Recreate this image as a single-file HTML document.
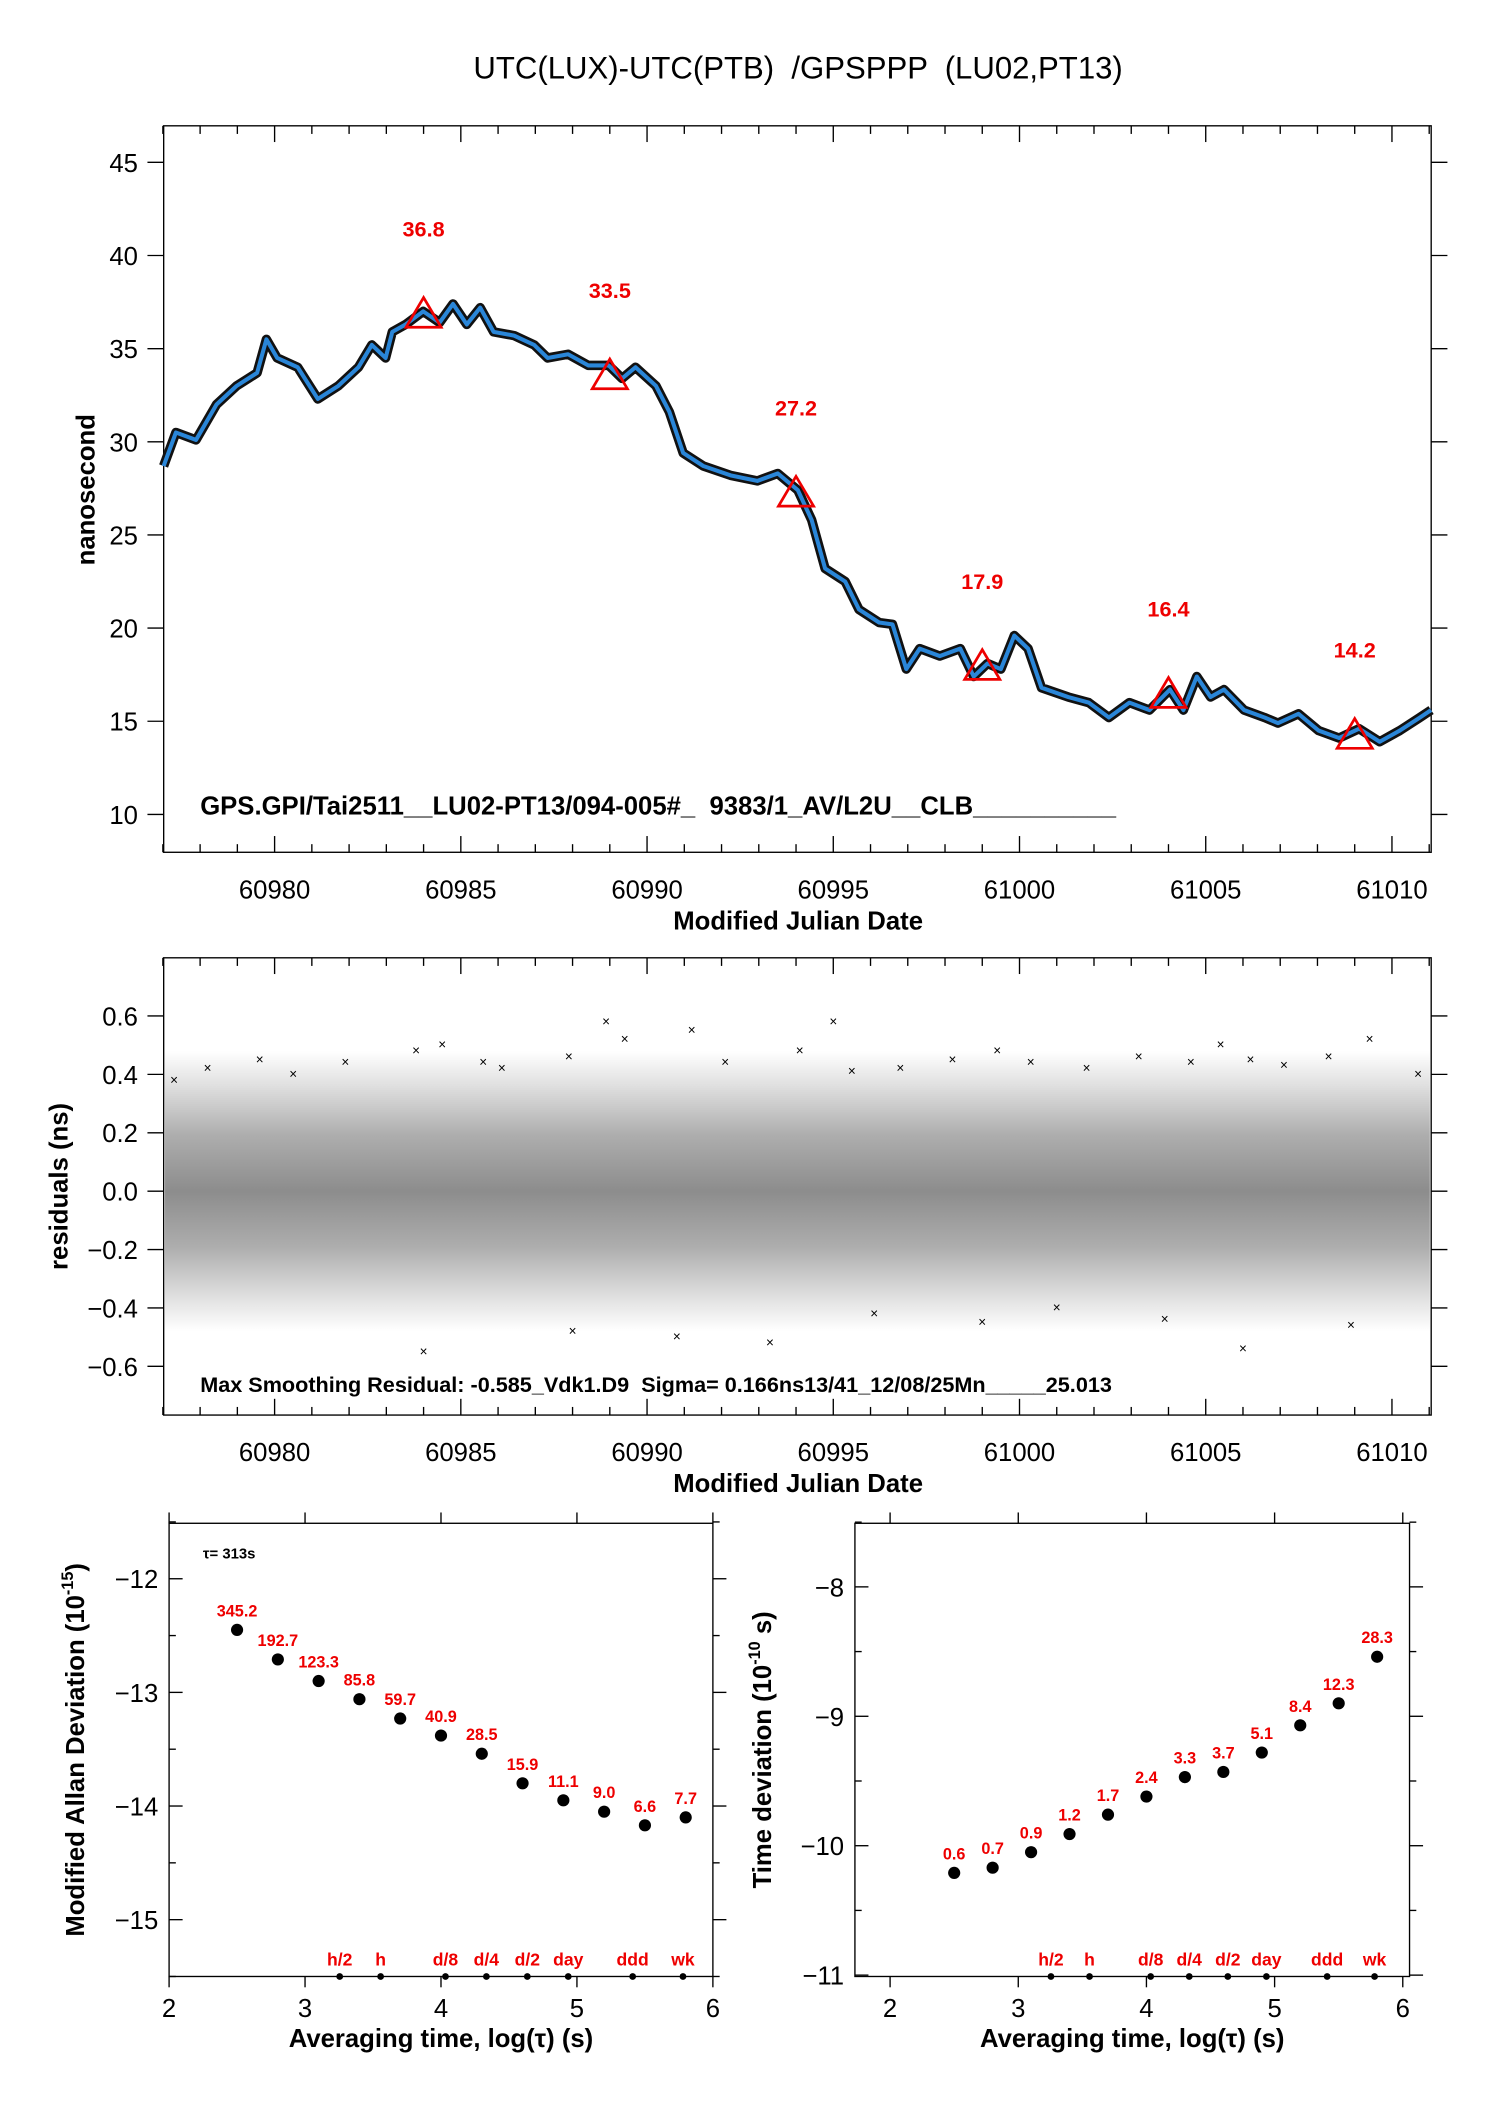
<!DOCTYPE html>
<html><head><meta charset="utf-8"><style>
html,body{margin:0;padding:0;background:#fff;}
svg{display:block;font-family:"Liberation Sans",sans-serif;}
svg text{white-space:pre;}
</style></head><body>
<svg id="root" width="1488" height="2105" viewBox="0 0 1100 1556" preserveAspectRatio="none" xmlns="http://www.w3.org/2000/svg">
<defs>
<linearGradient id="band" x1="0" y1="0" x2="0" y2="1">
<stop offset="0" stop-color="#000" stop-opacity="0"/>
<stop offset="0.12" stop-color="#000" stop-opacity="0.12"/>
<stop offset="0.3" stop-color="#000" stop-opacity="0.32"/>
<stop offset="0.5" stop-color="#000" stop-opacity="0.45"/>
<stop offset="0.7" stop-color="#000" stop-opacity="0.32"/>
<stop offset="0.88" stop-color="#000" stop-opacity="0.12"/>
<stop offset="1" stop-color="#000" stop-opacity="0"/>
</linearGradient>
</defs>
<text x="590" y="58" font-size="23" text-anchor="middle">UTC(LUX)-UTC(PTB)  /GPSPPP  (LU02,PT13)</text>
<g id="p1"></g>
<g id="p2"></g>
<g id="p3"></g>
<g id="p4"></g>
</svg>
<script>
const days=[60977.02,60977.35,60977.89,60978.44,60978.98,60979.53,60979.78,60980.07,60980.62,60981.16,60981.71,60982.25,60982.61,60982.98,60983.16,60983.52,60983.99,60984.43,60984.79,60985.16,60985.52,60985.88,60986.43,60986.97,60987.33,60987.88,60988.42,60988.97,60989.33,60989.69,60990.24,60990.60,60990.97,60991.51,60992.24,60992.96,60993.51,60994.05,60994.42,60994.78,60995.32,60995.69,60996.23,60996.59,60996.96,60997.32,60997.86,60998.41,60998.77,60999.14,60999.50,60999.86,61000.23,61000.59,61001.31,61001.86,61002.40,61002.95,61003.49,61004.04,61004.40,61004.76,61005.13,61005.49,61006.03,61006.58,61006.94,61007.49,61008.03,61008.58,61009.12,61009.67,61010.21,61010.75,61011.05];
const ns=[28.7,30.5,30.1,32.0,33.0,33.7,35.5,34.5,34.0,32.3,33.0,34.0,35.2,34.5,35.9,36.3,37.0,36.4,37.4,36.3,37.2,35.9,35.7,35.2,34.5,34.7,34.1,34.1,33.4,34.0,33.0,31.6,29.4,28.7,28.2,27.9,28.3,27.4,25.8,23.2,22.5,21.0,20.3,20.2,17.8,18.9,18.5,18.9,17.4,18.1,17.8,19.6,18.9,16.8,16.3,16.0,15.2,16.0,15.6,16.7,15.6,17.4,16.3,16.7,15.6,15.2,14.9,15.4,14.5,14.1,14.6,13.9,14.5,15.2,15.6];
const triDays=[60984,60989,60994,60999,61004,61009];
const triVals=[36.8,33.5,27.2,17.9,16.4,14.2];
const triLabels=["36.8","33.5","27.2","17.9","16.4","14.2"];
const dayTicks=[60980,60985,60990,60995,61000,61005,61010];
const nsTicks=[10,15,20,25,30,35,40,45];
const resTicks=[-0.6,-0.4,-0.2,0.0,0.2,0.4,0.6];
const resTickLabels=["\u22120.6","\u22120.4","\u22120.2","0.0","0.2","0.4","0.6"];
const outDays=[60977.3,60978.2,60979.6,60980.5,60981.9,60983.8,60984.5,60985.6,60986.1,60987.9,60988.9,60989.4,60991.2,60992.1,60994.1,60995.0,60995.5,60996.8,60998.2,60999.4,61000.3,61001.8,61003.2,61004.6,61005.4,61006.2,61007.1,61008.3,61009.4,61010.7,60984.0,60988.0,60990.8,60993.3,60996.1,60999.0,61001.0,61003.9,61006.0,61008.9];
const outRes=[0.38,0.42,0.45,0.4,0.44,0.48,0.5,0.44,0.42,0.46,0.58,0.52,0.55,0.44,0.48,0.58,0.41,0.42,0.45,0.48,0.44,0.42,0.46,0.44,0.5,0.45,0.43,0.46,0.52,0.4,-0.55,-0.48,-0.5,-0.52,-0.42,-0.45,-0.4,-0.44,-0.54,-0.46];
const logTau=[2.5,2.8,3.1,3.4,3.7,4.0,4.3,4.6,4.9,5.2,5.5,5.8];
const mdev=[-12.45,-12.71,-12.90,-13.06,-13.23,-13.38,-13.54,-13.80,-13.95,-14.05,-14.17,-14.10];
const mdevLabels=["345.2","192.7","123.3","85.8","59.7","40.9","28.5","15.9","11.1","9.0","6.6","7.7"];
const tdev=[-10.21,-10.17,-10.05,-9.91,-9.76,-9.62,-9.47,-9.43,-9.28,-9.07,-8.90,-8.54];
const tdevLabels=["0.6","0.7","0.9","1.2","1.7","2.4","3.3","3.7","5.1","8.4","12.3","28.3"];
const markTau=[3.255,3.556,4.033,4.334,4.635,4.936,5.41,5.78];
const markLabels=["h/2","h","d/8","d/4","d/2","day","ddd","wk"];
const logTicks=[2,3,4,5,6];
const mdevTicks=[-15,-14,-13,-12];
const tdevTicks=[-11,-10,-9,-8];

const NS="http://www.w3.org/2000/svg";
function mk(parent,tag,attrs,text){const e=document.createElementNS(NS,tag);for(const k in attrs)e.setAttribute(k,attrs[k]);if(text!==undefined)e.textContent=text;parent.appendChild(e);return e;}
const lin=(d0,d1,r0,r1)=>v=>r0+(v-d0)*(r1-r0)/(d1-d0);

const p1=document.getElementById('p1');
const x1=lin(60980,61010,203,1029), y1=lin(45,10,120,602);
function frame(g,x0,y0,x1_,y1_){const r=mk(g,'rect',{x:x0,y:y0,width:x1_-x0,height:y1_-y0,fill:'none',stroke:'#000','stroke-width':1});}
frame(p1,121,93,1058,630);
for(let d=60977;d<=61011;d++){const x=x1(d);const big=d%5===0;mk(p1,'line',{x1:x,x2:x,y1:630,y2:630-(big?12:6),stroke:'#000'});mk(p1,'line',{x1:x,x2:x,y1:93,y2:93+(big?12:6),stroke:'#000'});}
dayTicks.forEach(d=>{const t=mk(p1,'text',{x:x1(d),y:664,'font-size':19,'text-anchor':'middle'},String(d));});
nsTicks.forEach(v=>{const y=y1(v);mk(p1,'line',{x1:109,x2:121,y1:y,y2:y,stroke:'#000'});mk(p1,'line',{x1:1058,x2:1070,y1:y,y2:y,stroke:'#000'});const t=mk(p1,'text',{x:102,y:y+7,'font-size':19,'text-anchor':'end'},String(v));});
let t=mk(p1,'text',{x:590,y:687,'font-size':19,'font-weight':'bold','text-anchor':'middle'},'Modified Julian Date');
t=mk(p1,'text',{x:0,y:0,'font-size':19,'font-weight':'bold','text-anchor':'middle',transform:'translate(70,362) rotate(-90)'},'nanosecond');
const pts=days.map((d,i)=>x1(d)+','+y1(ns[i])).join(' ');
let pl=mk(p1,'polyline',{points:pts,fill:'none',stroke:'#111','stroke-width':7,'stroke-linejoin':'round'});
pl=mk(p1,'polyline',{points:pts,fill:'none',stroke:'#2a86d8','stroke-width':3,'stroke-linejoin':'round'});
triDays.forEach((d,i)=>{const x=x1(d),y=y1(triVals[i]);const p=mk(p1,'polygon',{points:`${x},${y-13} ${x-13},${y+9} ${x+13},${y+9}`,fill:'none',stroke:'#e00','stroke-width':2});
const l=mk(p1,'text',{x:x,y:y-58,'font-size':16,'font-weight':'bold',fill:'#e00','text-anchor':'middle'},triLabels[i]);});
t=mk(p1,'text',{x:148,y:602,'font-size':19,'font-weight':'bold'},'GPS.GPI/Tai2511__LU02-PT13/094-005#_  9383/1_AV/L2U__CLB__________');

const p2=document.getElementById('p2');
const y2=lin(0.6,-0.6,751,1010);
frame(p2,121,708,1058,1046);
let band=mk(p2,'rect',{x:122,y:y2(0.48),width:935,height:y2(-0.48)-y2(0.48),fill:'url(#band)'});
outDays.forEach((d,i)=>{const x=x1(d),y=y2(outRes[i]);const m=mk(p2,'text',{x:x,y:y+3,'font-size':10,'text-anchor':'middle'},'\u00d7');});
for(let d=60977;d<=61011;d++){const x=x1(d);const big=d%5===0;mk(p2,'line',{x1:x,x2:x,y1:1046,y2:1046-(big?12:6),stroke:'#000'});mk(p2,'line',{x1:x,x2:x,y1:708,y2:708+(big?12:6),stroke:'#000'});}
dayTicks.forEach(d=>{const t=mk(p2,'text',{x:x1(d),y:1080,'font-size':19,'text-anchor':'middle'},String(d));});
resTicks.forEach((v,i)=>{const y=y2(v);mk(p2,'line',{x1:109,x2:121,y1:y,y2:y,stroke:'#000'});mk(p2,'line',{x1:1058,x2:1070,y1:y,y2:y,stroke:'#000'});const t=mk(p2,'text',{x:102,y:y+7,'font-size':19,'text-anchor':'end'},resTickLabels[i]);});
t=mk(p2,'text',{x:590,y:1103,'font-size':19,'font-weight':'bold','text-anchor':'middle'},'Modified Julian Date');
t=mk(p2,'text',{x:0,y:0,'font-size':19,'font-weight':'bold','text-anchor':'middle',transform:'translate(50,877) rotate(-90)'},'residuals (ns)');
t=mk(p2,'text',{x:148,y:1029,'font-size':16,'font-weight':'bold'},'Max Smoothing Residual: -0.585_Vdk1.D9  Sigma= 0.166ns13/41_12/08/25Mn_____25.013');

function stab(g,X0,X1,Y0,Y1,xs,ys,yTicks,yMin,yMax,vals,labels,ylabel,ylx){
 frame(g,X0,Y0,X1,Y1);
 logTicks.forEach(v=>{const x=xs(v);mk(g,'line',{x1:x,x2:x,y1:Y1,y2:Y1+8,stroke:'#000'});mk(g,'line',{x1:x,x2:x,y1:Y0,y2:Y0-8,stroke:'#000'});const t=mk(g,'text',{x:x,y:Y1+30,'font-size':19,'text-anchor':'middle'},String(v));});
 for(let v=Math.ceil(yMin*2)/2;v<=yMax;v+=0.5){const y=ys(v);const big=Number.isInteger(v);mk(g,'line',{x1:X0,x2:X0+(big?10:5),y1:y,y2:y,stroke:'#000'});mk(g,'line',{x1:X1,x2:X1+(big?10:5),y1:y,y2:y,stroke:'#000'});}
 yTicks.forEach(v=>{const y=ys(v);const t=mk(g,'text',{x:X0-8,y:y+7,'font-size':19,'text-anchor':'end'},String(v).replace('-','\u2212'));});
 logTau.forEach((lt,i)=>{const c=mk(g,'circle',{cx:xs(lt),cy:ys(vals[i]),r:4.5,fill:'#000'});
  const l=mk(g,'text',{x:xs(lt),y:ys(vals[i])-10,'font-size':12,'font-weight':'bold',fill:'#e00','text-anchor':'middle'},labels[i]);});
 markTau.forEach((lt,i)=>{const c=mk(g,'circle',{cx:xs(lt),cy:Y1,r:2.5,fill:'#000'});
  const l=mk(g,'text',{x:xs(lt),y:Y1-8,'font-size':13,'font-weight':'bold',fill:'#e00','text-anchor':'middle'},markLabels[i]);});
 const xt=mk(g,'text',{x:(X0+X1)/2,y:Y1+52,'font-size':19,'font-weight':'bold','text-anchor':'middle'},'Averaging time, log(\u03c4) (s)');
 const yt=mk(g,'text',{x:0,y:0,'font-size':19,'font-weight':'bold','text-anchor':'middle',transform:`translate(${ylx},${(Y0+Y1)/2}) rotate(-90)`});yt.innerHTML=ylabel;
}
const p3=document.getElementById('p3');
const xs3=lin(2,6,125,527), ys3=lin(-12,-15,1167,1419);
stab(p3,125,527,1126,1461,xs3,ys3,mdevTicks,-15.5,-11.5,mdev,mdevLabels,'Modified Allan Deviation (10<tspan font-size="12" dy="-8">-15</tspan><tspan dy="8">)</tspan>',62);
t=mk(p3,'text',{x:150,y:1152,'font-size':11,'font-weight':'bold'},'\u03c4= 313s');
const p4=document.getElementById('p4');
const xs4=lin(2,6,658,1037), ys4=lin(-8,-11,1173,1460);
stab(p4,632,1042,1126,1461,xs4,ys4,tdevTicks,-11,-7.5,tdev,tdevLabels,'Time deviation (10<tspan font-size="12" dy="-8">-10</tspan><tspan dy="8"> s)</tspan>',570);
</script>
</body></html>
